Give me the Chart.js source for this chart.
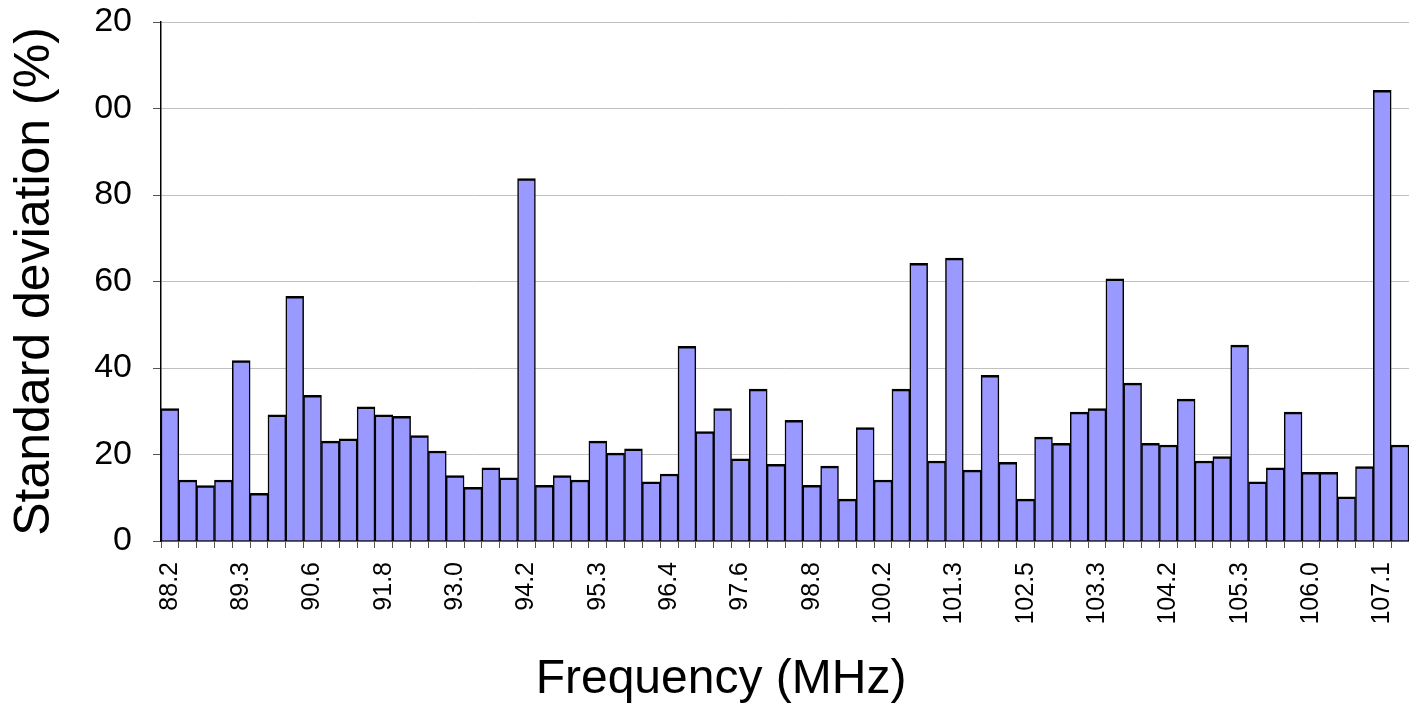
<!DOCTYPE html>
<html>
<head>
<meta charset="utf-8">
<script src="https://cdn.jsdelivr.net/npm/chart.js@4/dist/chart.umd.min.js"></script>
<style>
  html, body { margin: 0; padding: 0; background: #ffffff; }
  #wrap { width: 1409px; height: 705px; }
</style>
</head>
<body>
<div id="wrap"><canvas id="c" width="1409" height="705"></canvas></div>
<script>
// Labeled frequencies (every 4th bar carries a label)
const tickLabels = ['88.2','89.3','90.6','91.8','93.0','94.2','95.3','96.4','97.6','98.8',
                    '100.2','101.3','102.5','103.3','104.2','105.3','106.0','107.1'];

// Standard deviation (%) per frequency bar
const stdDev = [30.6,14.1,12.8,14.1,41.7,11.0,29.2,56.6,33.7,23.1,
                23.6,31.0,29.2,28.8,24.4,20.8,15.1,12.4,16.9,14.6,
                83.8,12.9,15.1,14.1,23.1,20.3,21.3,13.7,15.5,45.0,
                25.3,30.6,19.0,35.1,17.7,27.9,12.9,17.3,9.7,26.2,
                14.1,35.1,64.2,18.5,65.4,16.4,38.3,18.2,9.7,24.0,
                22.6,29.8,30.6,60.6,36.5,22.6,22.2,32.8,18.5,19.5,
                45.3,13.7,16.9,29.8,15.9,15.9,10.2,17.2,104.2,22.2];

// Y tick labels as shown (leading digits clipped in the original)
const yTickLabels = ['0','20','40','60','80','00','20'];

// Categories: one per bar, labeled every 4th
const categories = stdDev.map((_, i) => (i % 4 === 0 && tickLabels[i / 4] !== undefined) ? tickLabels[i / 4] : '');

Chart.defaults.font.family = "'Liberation Sans', Arial, sans-serif";
Chart.defaults.color = '#000';

new Chart(document.getElementById('c'), {
  type: 'bar',
  data: {
    labels: categories,
    datasets: [{
      data: stdDev,
      backgroundColor: '#9999FF',
      borderColor: '#000000',
      borderWidth: { top: 2.5, left: 1.5, right: 1.5, bottom: 0 },
      barPercentage: 1,
      categoryPercentage: 1
    }]
  },
  options: {
    responsive: false,
    animation: false,
    devicePixelRatio: 1,
    layout: { padding: { left: 33, right: 0, top: 22, bottom: 0 } },
    plugins: {
      legend: { display: false },
      tooltip: { enabled: false },
      title: {
        display: true,
        position: 'bottom',
        text: 'Frequency (MHz)',
        color: '#000',
        font: { size: 48, weight: 'normal' },
        padding: { top: 0, bottom: -4 }
      }
    },
    scales: {
      x: {
        grid: { display: true, drawOnChartArea: false, drawTicks: true, tickLength: 7, tickColor: '#555', offset: true },
        border: { display: true, color: '#000', width: 1.5 },
        ticks: { autoSkip: false, minRotation: 90, maxRotation: 90, padding: 14, color: '#000', font: { size: 25 } },
        afterFit: (s) => { s.height = 110.4; s.paddingLeft = 0; s.paddingRight = 0; }
      },
      y: {
        min: 0,
        max: 120,
        ticks: { stepSize: 20, padding: 21, color: '#000', font: { size: 34 },
                 callback: (v, i) => yTickLabels[i] },
        grid: { color: '#c0c0c0', lineWidth: 1, tickColor: '#555', tickLength: 8 },
        border: { display: true, color: '#000', width: 1.5 },
        title: { display: true, text: 'Standard deviation (%)', color: '#000',
                 font: { size: 50 }, padding: { top: -28, bottom: 0 } },
        afterFit: (s) => { s.width = 128; s.paddingTop = 0; s.paddingBottom = 0; }
      }
    }
  }
});
</script>
</body>
</html>
